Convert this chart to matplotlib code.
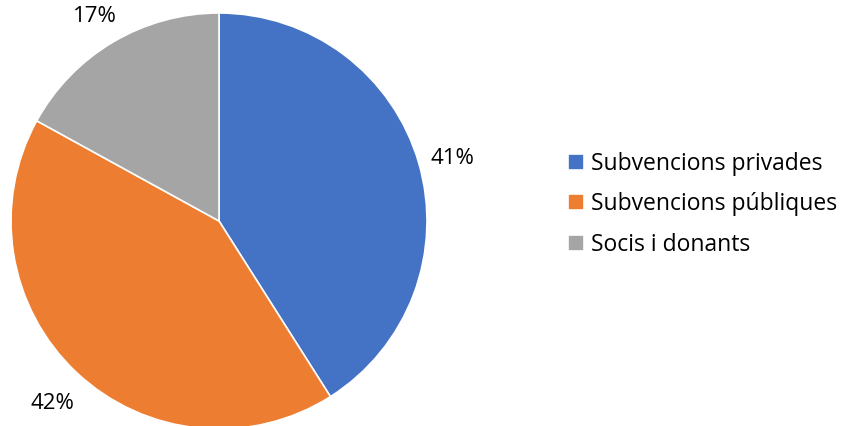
import matplotlib
matplotlib.use("Agg")
import matplotlib.pyplot as plt
import matplotlib.transforms as mtransforms

categories = ["Subvencions privades", "Subvencions públiques", "Socis i donants"]
shares = [41, 42, 17]
colors = ["#4472C4", "#ED7D31", "#A5A5A5"]

plt.rcParams["font.family"] = ["Open Sans", "DejaVu Sans"]

W, H = 845, 426
fig = plt.figure(figsize=(W / 100, H / 100), dpi=100)
cx, cy, r = 219, 221, 208
ax = fig.add_axes([(cx - r) / W, (H - cy - r) / H, 2 * r / W, 2 * r / H])

wedges, _, autotexts = ax.pie(
    shares, colors=colors, startangle=90, counterclock=False,
    autopct="%d%%", pctdistance=1.17, radius=1.0,
    wedgeprops={"edgecolor": "white", "linewidth": 1.2},
    textprops={"fontsize": 16, "color": "black"},
)
ax.set_xlim(-1, 1)
ax.set_ylim(-1, 1)
ax.set_aspect("equal")
ax.axis("off")
# nudge labels down a little, like the office-style label boxes
nudge = mtransforms.ScaledTranslation(0, -5 / 100, fig.dpi_scale_trans)
for t in autotexts:
    t.set_clip_on(False)
    t.set_transform(t.get_transform() + nudge)

fig.legend(
    wedges, categories, loc="upper left",
    bbox_to_anchor=(547 / W, 1 - 131 / H), frameon=False,
    fontsize=16.5, handlelength=0.7, handleheight=0.7, handletextpad=0.3,
    labelspacing=0.72, labelcolor="black",
)

fig.savefig("out.png", dpi=100)
